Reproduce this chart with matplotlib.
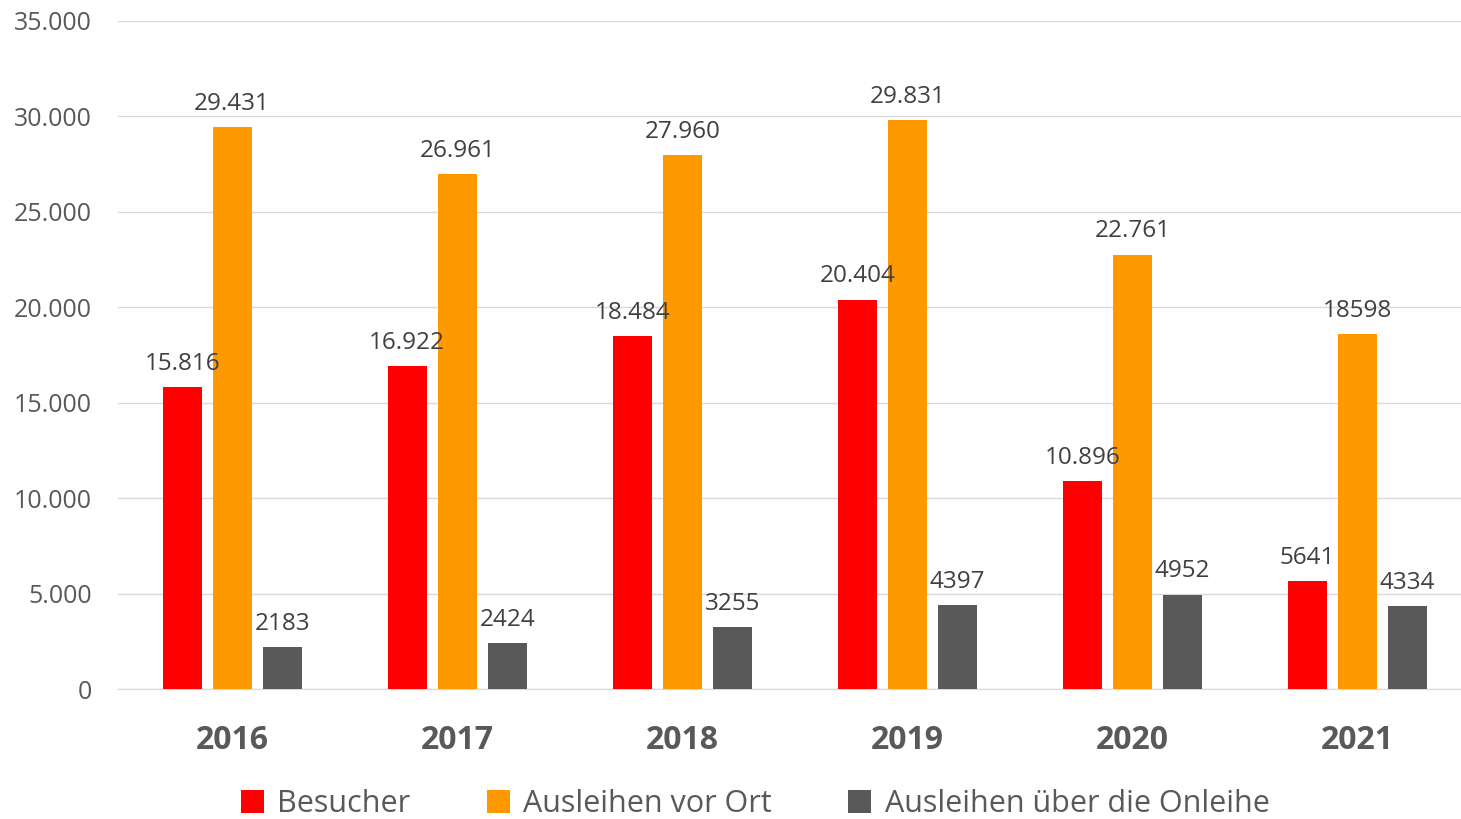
import matplotlib
matplotlib.use("Agg")
import matplotlib.pyplot as plt
import numpy as np
from matplotlib.ticker import FuncFormatter

years = ["2016", "2017", "2018", "2019", "2020", "2021"]
series_names = ["Besucher", "Ausleihen vor Ort", "Ausleihen über die Onleihe"]
besucher = [15816, 16922, 18484, 20404, 10896, 5641]
vor_ort = [29431, 26961, 27960, 29831, 22761, 18598]
onleihe = [2183, 2424, 3255, 4397, 4952, 4334]
besucher_labels = ["15.816", "16.922", "18.484", "20.404", "10.896", "5641"]
vor_ort_labels = ["29.431", "26.961", "27.960", "29.831", "22.761", "18598"]
onleihe_labels = ["2183", "2424", "3255", "4397", "4952", "4334"]
colors = ["#ff0000", "#ff9900", "#595959"]

plt.rcParams['font.family'] = ['Open Sans', 'DejaVu Sans']

fig = plt.figure(figsize=(14.61, 8.19), dpi=100)
ax = fig.add_axes([0.0808, 0.1587, 0.9192, 0.8157])

x = np.arange(len(years))
w = 0.173
off = 0.222
data = [besucher, vor_ort, onleihe]
labels = [besucher_labels, vor_ort_labels, onleihe_labels]
for i, (vals, labs, c, name) in enumerate(zip(data, labels, colors, series_names)):
    bars = ax.bar(x + (i - 1) * off, vals, width=w, color=c, label=name, zorder=3)
    for b, lab in zip(bars, labs):
        ax.annotate(lab, (b.get_x() + b.get_width() / 2, b.get_height()),
                    xytext=(0, 8), textcoords="offset points", ha="center", va="bottom",
                    fontsize=17.5, color="#404040", zorder=4)

ax.set_ylim(0, 35000)
ax.set_xlim(-0.507, 5.46)
ax.set_yticks(np.arange(0, 35001, 5000))
ax.yaxis.set_major_formatter(FuncFormatter(lambda v, p: "0" if v == 0 else f"{int(v):,}".replace(",", ".")))
ax.set_xticks(x)
ax.set_xticklabels(years, fontsize=23, fontweight="bold", color="#595959")
ax.tick_params(axis="y", labelsize=18, labelcolor="#595959", length=0, pad=19)
ax.tick_params(axis="x", length=0, pad=25)
for lbl in ax.get_yticklabels():
    lbl.set_horizontalalignment("right")
ax.grid(axis="y", color="#d9d9d9", linewidth=1, zorder=0)
for s in ["top", "right", "left"]:
    ax.spines[s].set_visible(False)
ax.spines["bottom"].set_color("#d9d9d9")

handles, lbls = ax.get_legend_handles_labels()
fig.legend(handles, lbls, loc="center", bbox_to_anchor=(0.517, 0.018), ncol=3, frameon=False,
           fontsize=22, labelcolor="#595959", handlelength=0.75, handleheight=0.75,
           columnspacing=2.5, handletextpad=0.45)

fig.savefig("out.png", dpi=100)
